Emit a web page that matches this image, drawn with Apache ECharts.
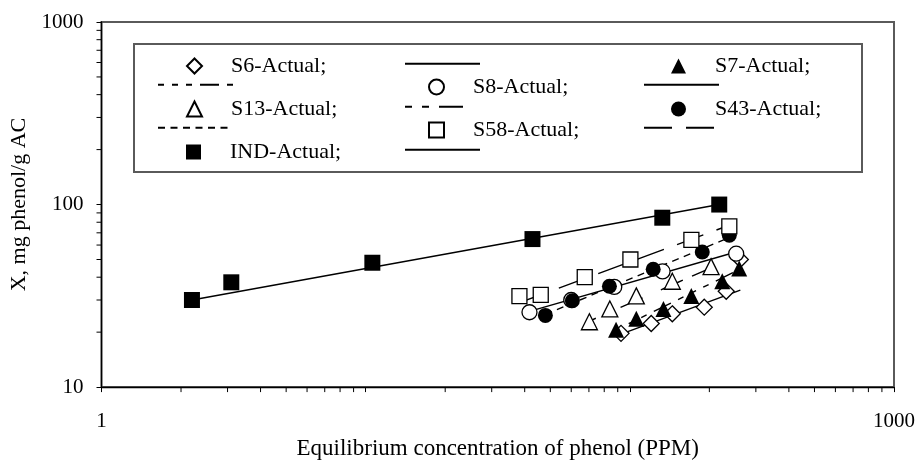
<!DOCTYPE html>
<html>
<head>
<meta charset="UTF-8">
<title></title>
<style type="text/css">
  html, body { margin: 0; padding: 0; background: #fff; }
  #chart { width: 918px; height: 465px; }
</style>
</head>
<body>
<div id="chart"></div>
<script src="https://cdn.jsdelivr.net/npm/echarts@6/dist/echarts.min.js" type="text/javascript"></script>
<script type="text/javascript">
  // measured points, [ppm, mg/g]
  var s6Actual  = [[92.6, 19.7], [120.5, 22.3], [144.8, 25.2], [191.3, 27.4], [231.7, 33.5], [262, 50]];
  var s7Actual  = [[88.7, 20.6], [105.8, 23.7], [134, 26.8], [170.9, 31.6], [223.8, 38], [259.4, 44.7]];
  var s8Actual  = [[41.7, 25.7], [60, 30], [87.3, 35.4], [133, 43], [252.7, 53.8]];
  var s13Actual = [[70.3, 22.8], [84, 26.8], [105.8, 31.6], [144.8, 38], [203, 45.7]];
  var s43Actual = [[47.9, 24.7], [60.6, 29.7], [83.7, 35.7], [122.6, 44.2], [188, 55], [238, 68]];
  var s58Actual = [[38.2, 31.5], [46, 32], [67.5, 40], [100.5, 50], [171, 64], [238, 76]];
  var indActual = [[2.2, 30], [3.1, 37.5], [10.6, 48], [42.8, 64.7], [132.7, 84.7], [218, 100]];

  // fitted lines (end points)
  var s6Fit  = [[92.6, 19.5], [262, 34]];
  var s7Fit  = [[88.7, 20.6], [259.4, 44]];
  var s8Fit  = [[41.7, 26], [264, 56]];
  var s13Fit = [[70.3, 23], [203, 45]];
  var s43Fit = [[47.9, 25], [238, 66]];
  var s58Fit = [[38.2, 29], [238, 77]];
  var indFit = [[2.2, 30], [218, 100]];

  var xLabels = [1, 1000];
  var yLabels = [10, 100, 1000];
  var xMinor = [2, 3, 4, 5, 6, 7, 8, 9, 20, 30, 40, 50, 60, 70, 80, 90, 200, 300, 400, 500, 600, 700, 800, 900];
  var yMinor = [20, 30, 40, 50, 60, 70, 80, 90, 200, 300, 400, 500, 600, 700, 800, 900];

  var FONT = 'Liberation Serif';
  var INK = '#000';

  function hollow(name, data, symbol, size) {
    return {
      name: name, type: 'scatter', data: data, symbol: symbol, symbolSize: size, z: 5,
      itemStyle: { color: '#fff', borderColor: INK, borderWidth: 1.3, opacity: 1 }
    };
  }
  function solid(name, data, symbol, size) {
    return {
      name: name, type: 'scatter', data: data, symbol: symbol, symbolSize: size, z: 5,
      itemStyle: { color: INK, opacity: 1 }
    };
  }
  function fit(name, data, dash) {
    return {
      name: name, type: 'line', data: data, symbol: 'none', z: 3,
      itemStyle: { color: INK },
      lineStyle: { color: INK, width: 1.4, type: dash }
    };
  }

  function minorTicks(values, isX) {
    return {
      type: 'custom', silent: true, clip: false, z: 10,
      data: values,
      renderItem: function (params, api) {
        var v = api.value(0);
        var p = isX ? api.coord([v, 10]) : api.coord([1, v]);
        return {
          type: 'line',
          shape: isX ? { x1: p[0], y1: p[1], x2: p[0], y2: p[1] + 5 }
                     : { x1: p[0] - 5, y1: p[1], x2: p[0], y2: p[1] },
          style: { stroke: INK, lineWidth: 1 }
        };
      },
      encode: { x: 0 }
    };
  }

  // legend slots: [series name, left, center y, is line]
  var rows = [66, 87, 109, 130, 152];
  var slots = [
    ['S6-Actual;', 186, rows[0], false], ['S6 fit', 404, rows[0], true], ['S7-Actual;', 671, rows[0], false],
    ['S7 fit', 157, rows[1], true], ['S8-Actual;', 428, rows[1], false], ['S8 fit', 643, rows[1], true],
    ['S13-Actual;', 186, rows[2], false], ['S13 fit', 404, rows[2], true], ['S43-Actual;', 671, rows[2], false],
    ['S43 fit', 157, rows[3], true], ['S58-Actual;', 428, rows[3], false], ['S58 fit', 643, rows[3], true],
    ['IND-Actual;', 186, rows[4], false], ['IND fit', 404, rows[4], true]
  ];
  var legends = slots.map(function (s) {
    return {
      data: [s[3] ? { name: s[0], itemStyle: { opacity: 0 } } : s[0]],
      left: s[1], top: s[2] - 11, orient: 'horizontal',
      itemWidth: s[3] ? 75 : 15, itemHeight: s[3] ? 22 : 15,
      selectedMode: false, padding: 0,
      formatter: function (n) { return n.indexOf('fit') > 0 ? '' : n; },
      textStyle: { fontFamily: FONT, fontSize: 22, color: INK, padding: [0, 0, 0, 24], lineHeight: 22 }
    };
  });

  var chart = echarts.init(document.getElementById('chart'), null, { renderer: 'canvas' });
  chart.setOption({
    animation: false,
    backgroundColor: '#fff',
    grid: { left: 101.5, right: 23, top: 22, bottom: 68, show: true, borderColor: '#5a5a5a', borderWidth: 2 },
    legend: legends,
    graphic: [{
      type: 'rect', z: 1,
      shape: { x: 134, y: 44, width: 728, height: 128 },
      style: { fill: '#fff', stroke: '#5a5a5a', lineWidth: 2 }
    }],
    xAxis: {
      type: 'log', logBase: 10, min: 1, max: 1000, interval: 1,
      name: 'Equilibrium concentration of phenol (PPM)', nameLocation: 'middle', nameGap: 43,
      nameTextStyle: { fontFamily: FONT, fontSize: 23, color: INK, verticalAlign: 'top' },
      axisLine: { lineStyle: { color: INK, width: 1.3 } },
      axisTick: { length: 5, lineStyle: { color: INK } },
      axisLabel: {
        margin: 24, fontFamily: FONT, fontSize: 21, color: INK,
        formatter: function (v) { return xLabels.indexOf(Math.round(v)) >= 0 ? String(Math.round(v)) : ''; }
      },
      splitLine: { show: false }
    },
    yAxis: {
      type: 'log', logBase: 10, min: 10, max: 1000, interval: 1,
      name: 'X, mg phenol/g AC', nameLocation: 'middle', nameGap: 63,
      nameTextStyle: { fontFamily: FONT, fontSize: 22, color: INK },
      axisLine: { lineStyle: { color: INK, width: 1.3 } },
      axisTick: { length: 5, lineStyle: { color: INK } },
      axisLabel: {
        margin: 18, fontFamily: FONT, fontSize: 21, color: INK,
        formatter: function (v) { return yLabels.indexOf(Math.round(v)) >= 0 ? String(Math.round(v)) : ''; }
      },
      splitLine: { show: false }
    },
    series: [
      hollow('S6-Actual;', s6Actual, 'diamond', 16),
      fit('S6 fit', s6Fit, 'solid'),
      solid('S7-Actual;', s7Actual, 'triangle', 16),
      fit('S7 fit', s7Fit, [6, 8, 6, 8, 6, 8, 19, 8]),
      hollow('S8-Actual;', s8Actual, 'circle', 15),
      fit('S8 fit', s8Fit, 'solid'),
      hollow('S13-Actual;', s13Actual, 'triangle', 16),
      fit('S13 fit', s13Fit, [7, 10, 7, 10, 24, 20]),
      solid('S43-Actual;', s43Actual, 'circle', 15),
      fit('S43 fit', s43Fit, [7, 5.5]),
      hollow('S58-Actual;', s58Actual, 'rect', 15),
      fit('S58 fit', s58Fit, [28, 14]),
      solid('IND-Actual;', indActual, 'rect', 16),
      fit('IND fit', indFit, 'solid'),
      minorTicks(xMinor, true),
      minorTicks(yMinor, false)
    ]
  });
</script>
</body>
</html>
